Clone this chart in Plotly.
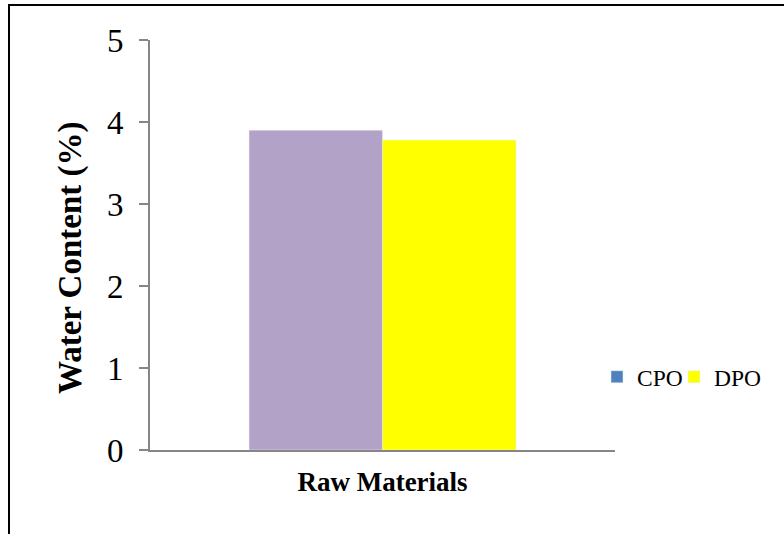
import plotly.graph_objects as go

# Water content of the two raw materials
categories = ["Raw Materials"]
cpo_values = [3.9]
dpo_values = [3.78]
y_ticks = [0, 1, 2, 3, 4, 5]
y_title = "Water Content (%)"

FONT = "Liberation Serif, Times New Roman, serif"

fig = go.Figure()

# Legend swatch for CPO (kept on a hidden overlay axis so it does not take a bar slot)
fig.add_trace(go.Bar(
    x=categories, y=[None], name="CPO", marker_color="#4F81BD",
    xaxis="x2", yaxis="y2", legendgroup="cpo", legend="legend",
))
fig.add_trace(go.Bar(
    x=categories, y=cpo_values, name="CPO", marker_color="#B3A2C7",
    showlegend=False, legendgroup="cpo",
))
fig.add_trace(go.Bar(
    x=categories, y=dpo_values, name="DPO", marker_color="#FFFF00",
    legend="legend2",
))

# Plot-area geometry in pixels, converted to paper fractions
L, R, T, B = 150, 615, 40, 450
pw, ph = R - L, B - T
def px_x(v):
    return (v - L) / pw
def px_y(v):
    return (B - v) / ph

# Outer frame of the chart area
fig.add_shape(type="rect", xref="paper", yref="paper",
              x0=px_x(9), x1=px_x(800), y0=px_y(5), y1=px_y(560),
              line=dict(color="#000000", width=2), layer="below")

# Vertical axis title, sitting slightly below the plot-area centre
fig.add_annotation(
    text=y_title, xref="paper", yref="paper",
    x=px_x(70), y=px_y(258), xanchor="center", yanchor="middle",
    textangle=-90, showarrow=False,
    font=dict(size=33, family=FONT, weight="bold", color="#000000"),
)

legend_style = dict(
    orientation="h", xanchor="left", y=px_y(377), yanchor="middle",
    font=dict(size=23.5, family=FONT), bgcolor="rgba(0,0,0,0)",
    itemclick=False, itemdoubleclick=False,
)

fig.update_layout(
    width=784, height=534,
    margin=dict(l=L, r=784 - R, t=T, b=534 - B, pad=0, autoexpand=False),
    paper_bgcolor="white", plot_bgcolor="white",
    barmode="group", bargap=0.426, bargroupgap=0,
    font=dict(family=FONT, color="#000000"),
    xaxis=dict(
        type="category", showgrid=False, zeroline=False,
        showline=True, linecolor="#868686", linewidth=2,
        ticks="", tickfont=dict(size=27, family=FONT, weight="bold"),
        ticklabelstandoff=7,
    ),
    yaxis=dict(
        range=[0, 5], tickvals=y_ticks, showgrid=False, zeroline=False,
        showline=True, linecolor="#868686", linewidth=2,
        ticks="outside", ticklen=9, tickcolor="#868686", tickwidth=2,
        tickfont=dict(size=33, family=FONT), ticklabelstandoff=9,
    ),
    xaxis2=dict(type="category", overlaying="x", visible=False),
    yaxis2=dict(range=[0, 5], overlaying="y", visible=False),
    legend=dict(x=px_x(597), **legend_style),
    legend2=dict(x=px_x(674), **legend_style),
    showlegend=True,
)

fig.write_html("out.html")
